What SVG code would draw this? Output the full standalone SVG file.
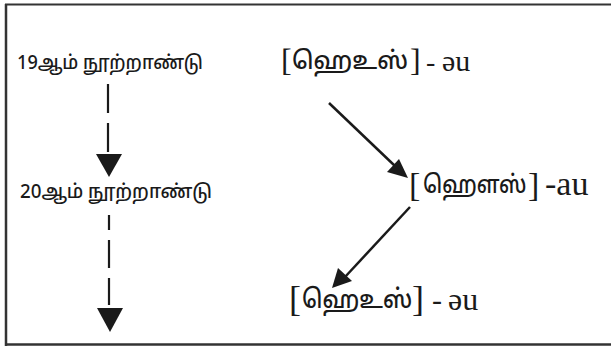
<svg xmlns="http://www.w3.org/2000/svg" width="611" height="348" viewBox="0 0 611 348">
<defs>
<style>
.tam{font-family:"Noto Sans Tamil","Lohit Tamil","Latha","Liberation Sans",sans-serif;fill:#1a1a1a;font-weight:500}
.lat{font-family:"Liberation Serif","DejaVu Serif",serif;fill:#1a1a1a;font-weight:400}
.dash{stroke:#1a1a1a;stroke-width:2.2;fill:none}
.arr{stroke:#1a1a1a;stroke-width:2.5;fill:none}
.head{fill:#1a1a1a}
</style>
</defs>
<rect x="0" y="0" width="611" height="348" fill="#fff"/>
<g id="frame" fill="none" stroke="#333">
<line x1="6" y1="4" x2="6" y2="346" stroke-width="2.5"/>
<line x1="5" y1="4.5" x2="611" y2="4.5" stroke-width="2"/>
<line x1="5" y1="344.5" x2="611" y2="344.5" stroke-width="2.5"/>
</g>
<g id="n19"><text class="tam" x="17" y="69" font-size="19" textLength="186" lengthAdjust="spacingAndGlyphs">19ஆம் நூற்றாண்டு</text></g>
<g id="n20"><text class="tam" x="20" y="198" font-size="19" textLength="192" lengthAdjust="spacingAndGlyphs">20ஆம் நூற்றாண்டு</text></g>
<g id="h1">
<text class="lat" x="281" y="71" font-size="32">[</text>
<text class="tam" transform="translate(292 69) scale(0.93 1)" font-size="25">ஹெஉஸ்</text>
<text class="lat" x="410" y="71" font-size="32">]</text>
<text class="lat" x="426" y="71" font-size="28">-</text>
<text class="lat" x="442" y="71" font-size="30">əu</text>
</g>
<g id="h2">
<text class="lat" x="409" y="196" font-size="34">[</text>
<text class="tam" transform="translate(423 193) scale(0.83 1)" font-size="25">ஹௌஸ்</text>
<text class="lat" x="528" y="196" font-size="34">]</text>
<text class="lat" x="545" y="195" font-size="34">-au</text>
</g>
<g id="h3">
<text class="lat" x="289" y="311" font-size="36">[</text>
<text class="tam" transform="translate(302 308) scale(0.85 1)" font-size="26">ஹெஉஸ்</text>
<text class="lat" x="412" y="311" font-size="36">]</text>
<text class="lat" x="432" y="310" font-size="30">-</text>
<text class="lat" x="448" y="310" font-size="32">əu</text>
</g>
<g id="connectors">
<path class="dash" d="M108 84V113M108 123V152"/>
<polygon class="head" points="96,154 122,154 109,177"/>
<path class="dash" d="M109 215V230M109 240V268M109 278V305"/>
<polygon class="head" points="97,308 123,308 110,332"/>
<line class="arr" x1="329" y1="103" x2="395" y2="166"/>
<polygon class="head" points="408,178 387,172 399,159"/>
<line class="arr" x1="410" y1="207" x2="345" y2="277"/>
<polygon class="head" points="332,288 338,268 352,281"/>
</g>
</svg>
